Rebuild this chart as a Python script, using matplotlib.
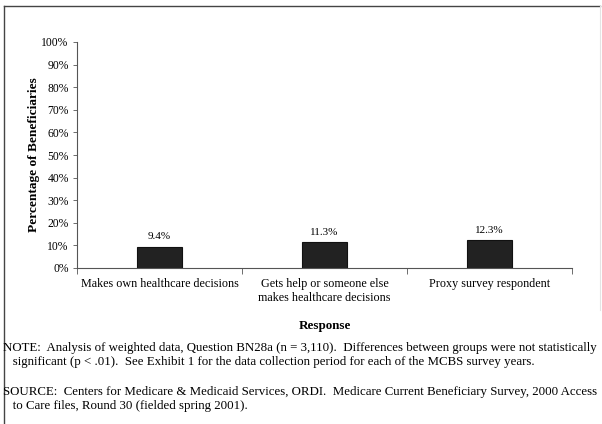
import matplotlib
matplotlib.use("Agg")
import matplotlib.pyplot as plt
from matplotlib.lines import Line2D

categories = ["Makes own healthcare decisions",
              "Gets help or someone else\nmakes healthcare decisions",
              "Proxy survey respondent"]
values = [9.4, 11.3, 12.3]
value_labels = ["9.4%", "11.3%", "12.3%"]
yticks = [0, 10, 20, 30, 40, 50, 60, 70, 80, 90, 100]
ytick_labels = [f"{t}%" for t in yticks]

plt.rcParams['font.family'] = ['Liberation Serif', 'DejaVu Serif']

W, H = 602, 424
fig = plt.figure(figsize=(W/100, H/100), dpi=100)

# axes: x from 77 to 572 px, y 0% at 268, 100% at 42
ax = fig.add_axes([77/W, 1-268/H, (572-77)/W, (268-42)/H])
x = [0, 1, 2]
ax.bar(x, values, width=0.27, color="#222222", edgecolor="#111111", linewidth=0.8)
ax.set_xlim(-0.5, 2.5)
ax.set_ylim(0, 100)
ax.set_yticks(yticks)
ax.set_yticklabels(ytick_labels, fontsize=8.4)
ax.set_xticks([-0.5, 0.5, 1.5, 2.5])
ax.set_xticklabels([])
ax.tick_params(axis='y', length=3, width=0.6, pad=3, color="#555555")
ax.tick_params(axis='x', length=4, width=0.6, color="#555555")
for s in ['top', 'right']:
    ax.spines[s].set_visible(False)
for s in ['left', 'bottom']:
    ax.spines[s].set_linewidth(0.8)
    ax.spines[s].set_color("#555555")
for xi, v, lab in zip(x, values, value_labels):
    ax.text(xi, v + 2.5, lab, ha='center', va='bottom', fontsize=8)
for xi, c in zip(x, categories):
    ax.text(xi, -4.5, c, ha='center', va='top', fontsize=8.7, linespacing=1.2)

ax.set_ylabel("Percentage of Beneficiaries", fontsize=9.6, fontweight='bold', va='center')
ax.yaxis.set_label_coords(-(77-34)/(572-77), 0.5)
fig.text(325/W, 1-326/H, "Response", ha='center', va='center', fontsize=9.4, fontweight='bold')

note = ("NOTE:  Analysis of weighted data, Question BN28a (n = 3,110).  Differences between groups were not statistically\n"
        "   significant (p < .01).  See Exhibit 1 for the data collection period for each of the MCBS survey years.")
source = ("SOURCE:  Centers for Medicare & Medicaid Services, ORDI.  Medicare Current Beneficiary Survey, 2000 Access\n"
          "   to Care files, Round 30 (fielded spring 2001).")
fig.text(3/W, 1-342/H, note, ha='left', va='top', fontsize=9.3, linespacing=1.2)
fig.text(3/W, 1-386/H, source, ha='left', va='top', fontsize=9.3, linespacing=1.2)

# frame lines
fig.add_artist(Line2D([4/W, 4/W], [0, 1-6/H], transform=fig.transFigure, color="#444444", lw=1.0))
fig.add_artist(Line2D([4/W, 600/W], [1-6/H, 1-6/H], transform=fig.transFigure, color="#444444", lw=1.0))
fig.add_artist(Line2D([600/W, 600/W], [1-310/H, 1-6/H], transform=fig.transFigure, color="#e4e4e4", lw=0.8))

fig.savefig("out.png", dpi=100)
